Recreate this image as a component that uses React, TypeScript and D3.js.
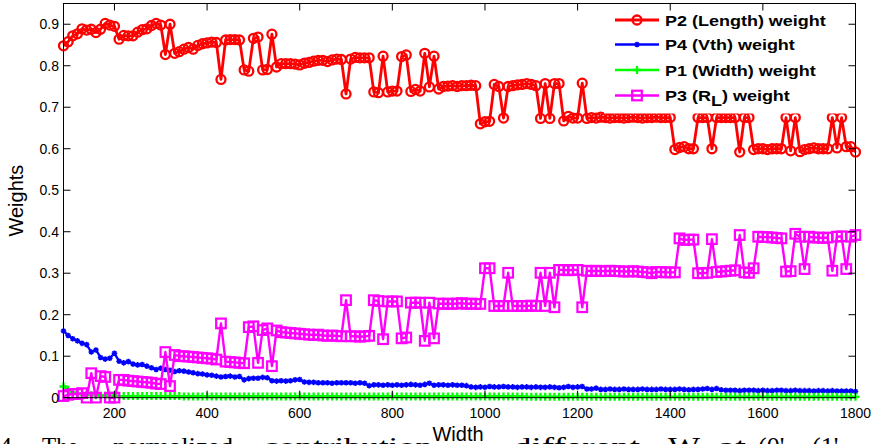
import React from "react";
import * as d3 from "d3";

// ---------- data ----------
const widthStart = 90;
const widthStop = 1800;
const widthStep = 10;
const widths: number[] = d3.range(widthStart, widthStop + 1, widthStep); // 172 widths

const p2Length: number[] = [
  0.848,0.858,0.872,0.877,0.889,0.886,0.888,0.880,0.888,0.902,
  0.898,0.895,0.864,0.873,0.872,0.872,0.881,0.887,0.889,0.897,
  0.902,0.898,0.827,0.900,0.830,0.834,0.840,0.844,0.840,0.849,
  0.853,0.855,0.857,0.856,0.767,0.862,0.863,0.863,0.862,0.790,
  0.787,0.866,0.869,0.790,0.791,0.876,0.797,0.805,0.805,0.805,
  0.804,0.802,0.806,0.808,0.811,0.813,0.813,0.810,0.814,0.816,
  0.815,0.732,0.816,0.820,0.819,0.819,0.819,0.737,0.735,0.823,
  0.737,0.739,0.739,0.822,0.826,0.738,0.743,0.739,0.830,0.749,
  0.823,0.744,0.750,0.751,0.752,0.750,0.752,0.752,0.753,0.752,
  0.660,0.665,0.666,0.755,0.750,0.674,0.750,0.752,0.754,0.755,
  0.757,0.755,0.752,0.673,0.757,0.673,0.757,0.757,0.667,0.678,
  0.674,0.674,0.758,0.673,0.675,0.674,0.676,0.675,0.674,0.675,
  0.675,0.674,0.675,0.676,0.675,0.674,0.675,0.675,0.676,0.675,
  0.675,0.675,0.598,0.603,0.605,0.600,0.600,0.675,0.675,0.675,
  0.600,0.675,0.675,0.675,0.675,0.675,0.592,0.675,0.675,0.598,
  0.600,0.600,0.598,0.600,0.600,0.600,0.675,0.595,0.675,0.593,
  0.598,0.600,0.602,0.600,0.600,0.600,0.675,0.602,0.675,0.605,
  0.605,0.592,
];

const p4Vth: number[] = [
  0.161,0.150,0.142,0.137,0.131,0.128,0.110,0.115,0.097,0.093,
  0.095,0.107,0.088,0.084,0.087,0.081,0.079,0.080,0.076,0.072,
  0.068,0.071,0.068,0.066,0.063,0.065,0.064,0.062,0.060,0.058,
  0.057,0.055,0.054,0.052,0.050,0.051,0.052,0.050,0.051,0.043,
  0.046,0.047,0.047,0.049,0.048,0.041,0.040,0.041,0.040,0.041,
  0.043,0.044,0.038,0.037,0.037,0.036,0.036,0.036,0.035,0.036,
  0.036,0.036,0.036,0.035,0.036,0.035,0.029,0.031,0.031,0.030,
  0.031,0.030,0.031,0.030,0.031,0.032,0.031,0.030,0.032,0.035,
  0.030,0.031,0.031,0.030,0.031,0.030,0.030,0.029,0.026,0.025,
  0.026,0.025,0.027,0.026,0.026,0.027,0.026,0.026,0.025,0.026,
  0.026,0.025,0.026,0.025,0.025,0.026,0.025,0.024,0.025,0.027,
  0.025,0.026,0.027,0.021,0.021,0.023,0.020,0.020,0.021,0.020,
  0.020,0.021,0.020,0.020,0.020,0.021,0.020,0.020,0.020,0.021,
  0.020,0.020,0.020,0.021,0.020,0.019,0.020,0.020,0.021,0.022,
  0.020,0.022,0.019,0.018,0.018,0.018,0.017,0.018,0.018,0.018,
  0.017,0.018,0.017,0.017,0.018,0.018,0.017,0.017,0.018,0.017,
  0.017,0.017,0.016,0.017,0.017,0.016,0.017,0.016,0.016,0.016,
  0.016,0.015,
];

const p1Width: number[] = [
  0.027,0.019,0.013,0.010,0.008,0.007,0.006,0.006,0.005,0.005,
  0.005,0.005,0.004,0.004,0.004,0.004,0.004,0.004,0.004,0.004,
  0.004,0.004,0.004,0.004,0.004,0.004,0.003,0.003,0.003,0.003,
  0.003,0.003,0.003,0.003,0.003,0.003,0.003,0.003,0.003,0.003,
  0.003,0.003,0.003,0.003,0.003,0.003,0.003,0.003,0.003,0.003,
  0.003,0.003,0.003,0.003,0.003,0.003,0.003,0.003,0.003,0.003,
  0.003,0.003,0.003,0.003,0.003,0.003,0.003,0.003,0.003,0.003,
  0.003,0.003,0.003,0.003,0.003,0.003,0.003,0.003,0.003,0.003,
  0.003,0.003,0.003,0.003,0.003,0.003,0.003,0.003,0.003,0.003,
  0.003,0.003,0.003,0.003,0.003,0.003,0.003,0.003,0.003,0.003,
  0.002,0.002,0.002,0.002,0.002,0.002,0.002,0.002,0.002,0.002,
  0.002,0.002,0.002,0.002,0.002,0.002,0.002,0.002,0.002,0.002,
  0.002,0.002,0.002,0.002,0.002,0.002,0.002,0.002,0.002,0.002,
  0.002,0.002,0.002,0.002,0.002,0.002,0.002,0.002,0.002,0.002,
  0.002,0.002,0.002,0.002,0.002,0.002,0.002,0.002,0.002,0.002,
  0.002,0.002,0.002,0.002,0.002,0.002,0.002,0.002,0.002,0.002,
  0.002,0.002,0.002,0.002,0.002,0.002,0.002,0.002,0.002,0.002,
  0.002,0.002,
];

const p3RL: number[] = [
  0.004,0.007,0.009,0.009,0.011,0.000,0.059,0.000,0.052,0.050,
  0.000,0.000,0.043,0.043,0.041,0.040,0.039,0.038,0.037,0.036,
  0.034,0.033,0.110,0.028,0.103,0.100,0.100,0.099,0.098,0.097,
  0.096,0.095,0.094,0.092,0.179,0.087,0.086,0.085,0.084,0.083,
  0.170,0.172,0.084,0.163,0.167,0.076,0.162,0.158,0.157,0.156,
  0.155,0.154,0.153,0.152,0.151,0.152,0.150,0.149,0.150,0.149,
  0.148,0.235,0.148,0.148,0.147,0.148,0.149,0.235,0.233,0.141,
  0.232,0.232,0.232,0.143,0.145,0.229,0.229,0.229,0.137,0.229,
  0.143,0.227,0.226,0.227,0.226,0.227,0.228,0.226,0.227,0.226,
  0.226,0.312,0.312,0.221,0.221,0.221,0.301,0.221,0.221,0.221,
  0.221,0.222,0.221,0.301,0.221,0.301,0.218,0.308,0.308,0.307,
  0.308,0.308,0.218,0.306,0.305,0.306,0.305,0.305,0.306,0.305,
  0.305,0.304,0.304,0.305,0.304,0.303,0.302,0.300,0.303,0.303,
  0.302,0.302,0.302,0.384,0.380,0.381,0.381,0.300,0.300,0.301,
  0.382,0.303,0.304,0.305,0.306,0.307,0.392,0.302,0.301,0.312,
  0.388,0.387,0.387,0.386,0.385,0.384,0.304,0.305,0.395,0.388,
  0.310,0.388,0.386,0.386,0.385,0.386,0.306,0.388,0.389,0.310,
  0.388,0.392,
];

const xTicks: number[] = [200, 400, 600, 800, 1000, 1200, 1400, 1600, 1800];
const yTicks: number[] = [0, 0.1, 0.2, 0.3, 0.4, 0.5, 0.6, 0.7, 0.8, 0.9];
const legendLabels: string[] = ["P2 (Length) weight", "P4 (Vth) weight", "P1 (Width) weight", "P3 (R_L) weight"];

// ---------- layout ----------
const W = 878;
const H = 444;
const plot = { left: 63.5, right: 855.5, top: 3.5, bottom: 397.7 };
const SANS = "'Liberation Sans', Arial, Helvetica, sans-serif";
const SERIF = "'Liberation Serif', 'Times New Roman', serif";

type Marker = "circle" | "star" | "plus" | "square";

function MarkerShape({ kind, x, y, color }: { kind: Marker; x: number; y: number; color: string }) {
  if (kind === "circle") return <circle cx={x} cy={y} r={4.5} fill="none" stroke={color} strokeWidth={2.3} />;
  if (kind === "square") return <rect x={x - 4.8} y={y - 4.8} width={9.6} height={9.6} fill="none" stroke={color} strokeWidth={2.2} />;
  if (kind === "plus") {
    const s = 4;
    return <path d={`M${x - s},${y}H${x + s}M${x},${y - s}V${y + s}`} stroke={color} strokeWidth={2.3} fill="none" />;
  }
  const s = 2.8;
  const d = 0.7 * s;
  return (
    <path
      d={`M${x - s},${y}H${x + s}M${x},${y - s}V${y + s}M${x - d},${y - d}L${x + d},${y + d}M${x - d},${y + d}L${x + d},${y - d}`}
      stroke={color}
      strokeWidth={1.5}
      fill="none"
    />
  );
}

export default function App() {
  const x = d3.scaleLinear().domain([widthStart, widthStop]).range([plot.left, plot.right]);
  const y = d3.scaleLinear().domain([0, 0.95]).range([plot.bottom, plot.top]);

  const series: { values: number[]; color: string; marker: Marker; lw: number }[] = [
    { values: p2Length, color: "#ff0000", marker: "circle", lw: 2.8 },
    { values: p4Vth, color: "#0000ff", marker: "star", lw: 2.3 },
    { values: p1Width, color: "#00ff00", marker: "plus", lw: 2.3 },
    { values: p3RL, color: "#ff00ff", marker: "square", lw: 2.4 },
  ];

  const line = d3
    .line<number>()
    .x((_, i) => x(widths[i]))
    .y((v) => y(v));

  const tickLen = 7;
  const legendRows = [20, 44.5, 70, 95.5];
  const legendOrder = [0, 1, 2, 3];

  return (
    <svg width={W} height={H} style={{ position: "absolute", left: 0, top: 0, background: "#fff" }}>
      <rect x={0} y={0} width={W} height={H} fill="#fff" />
      <defs>
        <clipPath id="plotclip">
          <rect x={plot.left - 6} y={plot.top - 6} width={plot.right - plot.left + 12} height={plot.bottom - plot.top + 12} />
        </clipPath>
      </defs>

      {/* data */}
      <g clipPath="url(#plotclip)">
        {series.map((s, si) => (
          <g key={si}>
            <path d={line(s.values) || ""} fill="none" stroke={s.color} strokeWidth={s.lw} strokeLinejoin="round" />
            {s.values.map((v, i) => (
              <MarkerShape key={i} kind={s.marker} x={x(widths[i])} y={y(v)} color={s.color} />
            ))}
          </g>
        ))}
      </g>

      {/* legend background */}
      <rect x={604} y={plot.top} width={plot.right - 604} height={110} fill="#fff" />
      {legendOrder.map((si, k) => {
        const s = series[si];
        const cy = legendRows[k];
        const label = legendLabels[si];
        return (
          <g key={k}>
            <line x1={615} x2={659} y1={cy} y2={cy} stroke={s.color} strokeWidth={s.lw} />
            <MarkerShape kind={s.marker} x={637} y={cy} color={s.color} />
            <text
              transform={`translate(665,${cy + 5.5}) scale(1.2,1)`}
              fontFamily={SANS}
              fontWeight="bold"
              fontSize={15}
              fill="#000"
            >
              {label.includes("_L") ? (
                <>
                  {label.split("_L")[0]}
                  <tspan dy={5}>L</tspan>
                  <tspan dy={-5}>{label.split("_L")[1]}</tspan>
                </>
              ) : (
                label
              )}
            </text>
          </g>
        );
      })}

      {/* axes box */}
      <rect x={plot.left} y={plot.top} width={plot.right - plot.left} height={plot.bottom - plot.top} fill="none" stroke="#000" strokeWidth={1} />

      {/* x ticks */}
      {xTicks.map((t) => (
        <g key={t}>
          <line x1={x(t)} x2={x(t)} y1={plot.bottom} y2={plot.bottom - tickLen} stroke="#000" />
          <line x1={x(t)} x2={x(t)} y1={plot.top} y2={plot.top + tickLen} stroke="#000" />
          <text x={x(t)} y={417.5} textAnchor="middle" fontFamily={SANS} fontSize={14} fill="#000">
            {t}
          </text>
        </g>
      ))}

      {/* y ticks */}
      {yTicks.map((t) => (
        <g key={t}>
          <line x1={plot.left} x2={plot.left + tickLen} y1={y(t)} y2={y(t)} stroke="#000" />
          <line x1={plot.right} x2={plot.right - tickLen} y1={y(t)} y2={y(t)} stroke="#000" />
          <text x={59} y={y(t) + 5} textAnchor="end" fontFamily={SANS} fontSize={14} fill="#000">
            {t === 0 ? "0" : d3.format(".1f")(t)}
          </text>
        </g>
      ))}

      {/* axis labels */}
      <text x={458} y={441} textAnchor="middle" fontFamily={SANS} fontSize={20} fill="#000">
        Width
      </text>
      <text
        transform={`translate(23,${(plot.top + plot.bottom) / 2}) rotate(-90)`}
        textAnchor="middle"
        fontFamily={SANS}
        fontSize={20}
        fill="#000"
      >
        Weights
      </text>

      {/* cropped caption below the figure (the reference shows only its top edge) */}
      <g fontFamily={SERIF} fontSize={26} fill="#000">
        <text x={-1} y={455}>4.</text>
        <text x={42} y={455} textLength={36} lengthAdjust="spacingAndGlyphs">The</text>
        <text x={113} y={455} textLength={120} lengthAdjust="spacingAndGlyphs">normalized</text>
        <text x={263} y={455} textLength={170} lengthAdjust="spacingAndGlyphs">contribution</text>
        <text x={513} y={455} textLength={127} lengthAdjust="spacingAndGlyphs">different</text>
        <text x={668} y={455} textLength={32} lengthAdjust="spacingAndGlyphs">W</text>
        <text x={718} y={455} textLength={28} lengthAdjust="spacingAndGlyphs">at</text>
        <text x={758} y={455}>(0',</text>
        <text x={812} y={455}>(1'</text>
      </g>
    </svg>
  );
}
